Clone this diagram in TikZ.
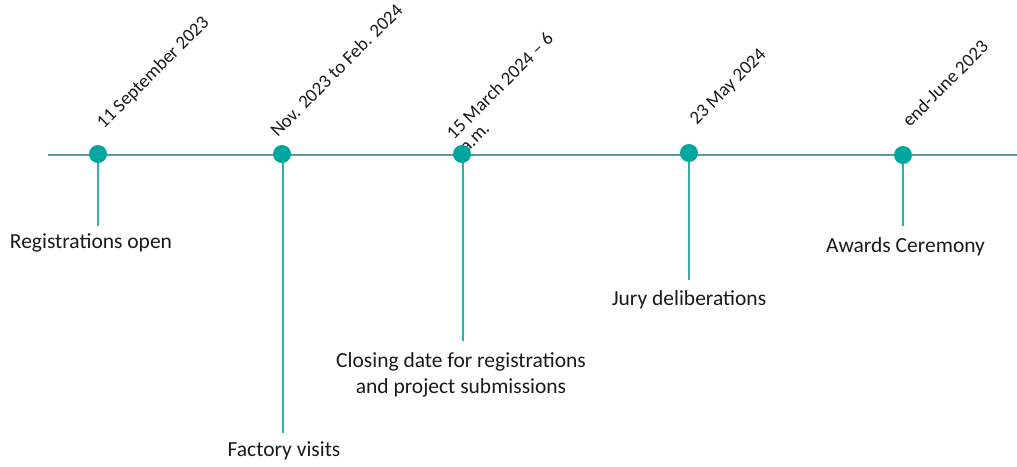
\documentclass[tikz,border=0pt]{standalone}
\usepackage{fontspec}
\setmainfont{Carlito}
\usepackage{tikz}
\usetikzlibrary{positioning}
\usepackage{xcolor}
\definecolor{tealdot}{HTML}{00A79F}
\definecolor{tealline}{HTML}{30AFA9}
\definecolor{axisline}{HTML}{5A9E9C}
\definecolor{darktext}{HTML}{1A1A1A}

\begin{document}
\begin{tikzpicture}[x=1pt, y=-1pt,
  dot/.style={circle, fill=tealdot, minimum size=18pt, inner sep=0pt},
  stem/.style={draw=tealline, line width=1.4pt},
  axis/.style={draw=axisline, line width=1.6pt},
  event/.style={font=\fontsize{21.5}{26}\selectfont, text=darktext, align=center, inner sep=0pt},
  datelbl/.style={font=\fontsize{18.8}{18.5}\selectfont, text=darktext, rotate=45,
                  anchor=south west, inner sep=0pt, align=left},
]
  \useasboundingbox (0,0) rectangle (1017,466);
  % timeline
  \coordinate (start) at (48,155);
  \coordinate (end) at (1017,155);
  \draw[axis] (start) -- (end);
  % dates
  \node[datelbl] (d1) at (106,132) {11 September 2023};
  \node[datelbl] (d2) at (278,138) {Nov. 2023 to Feb. 2024};
  \node[datelbl] (d3) at (467,154) {15 March 2024 -- 6\\a.m.};
  \node[datelbl] (d4) at (699,128) {23 May 2024};
  \node[datelbl] (d5) at (910,128) {end-June 2023};
  % stems and events
  \coordinate (s1) at (98,226);
  \coordinate (s2) at (283,433);
  \coordinate (s3) at (463,341);
  \coordinate (s4) at (689,280);
  \coordinate (s5) at (903,226);
  \draw[stem] (98,155) -- (s1);
  \draw[stem] (283,155) -- (s2);
  \draw[stem] (463,155) -- (s3);
  \draw[stem] (689,155) -- (s4);
  \draw[stem] (903,155) -- (s5);
  \node[event, below=7pt of s1, xshift=-7pt] (e1) {Registrations open};
  \node[event, below=9pt of s2, xshift=1pt] (e2) {Factory visits};
  \node[event, below=11pt of s3, xshift=-2pt] (e3) {Closing date for registrations\\and project submissions};
  \node[event, below=10pt of s4] (e4) {Jury deliberations};
  \node[event, below=11pt of s5, xshift=2.5pt] (e5) {Awards Ceremony};
  % dots
  \node[dot] (p1) at (98,154) {};
  \node[dot] (p2) at (282,154) {};
  \node[dot] (p3) at (462,154) {};
  \node[dot] (p4) at (689,153) {};
  \node[dot] (p5) at (903,155) {};
\end{tikzpicture}
\end{document}
